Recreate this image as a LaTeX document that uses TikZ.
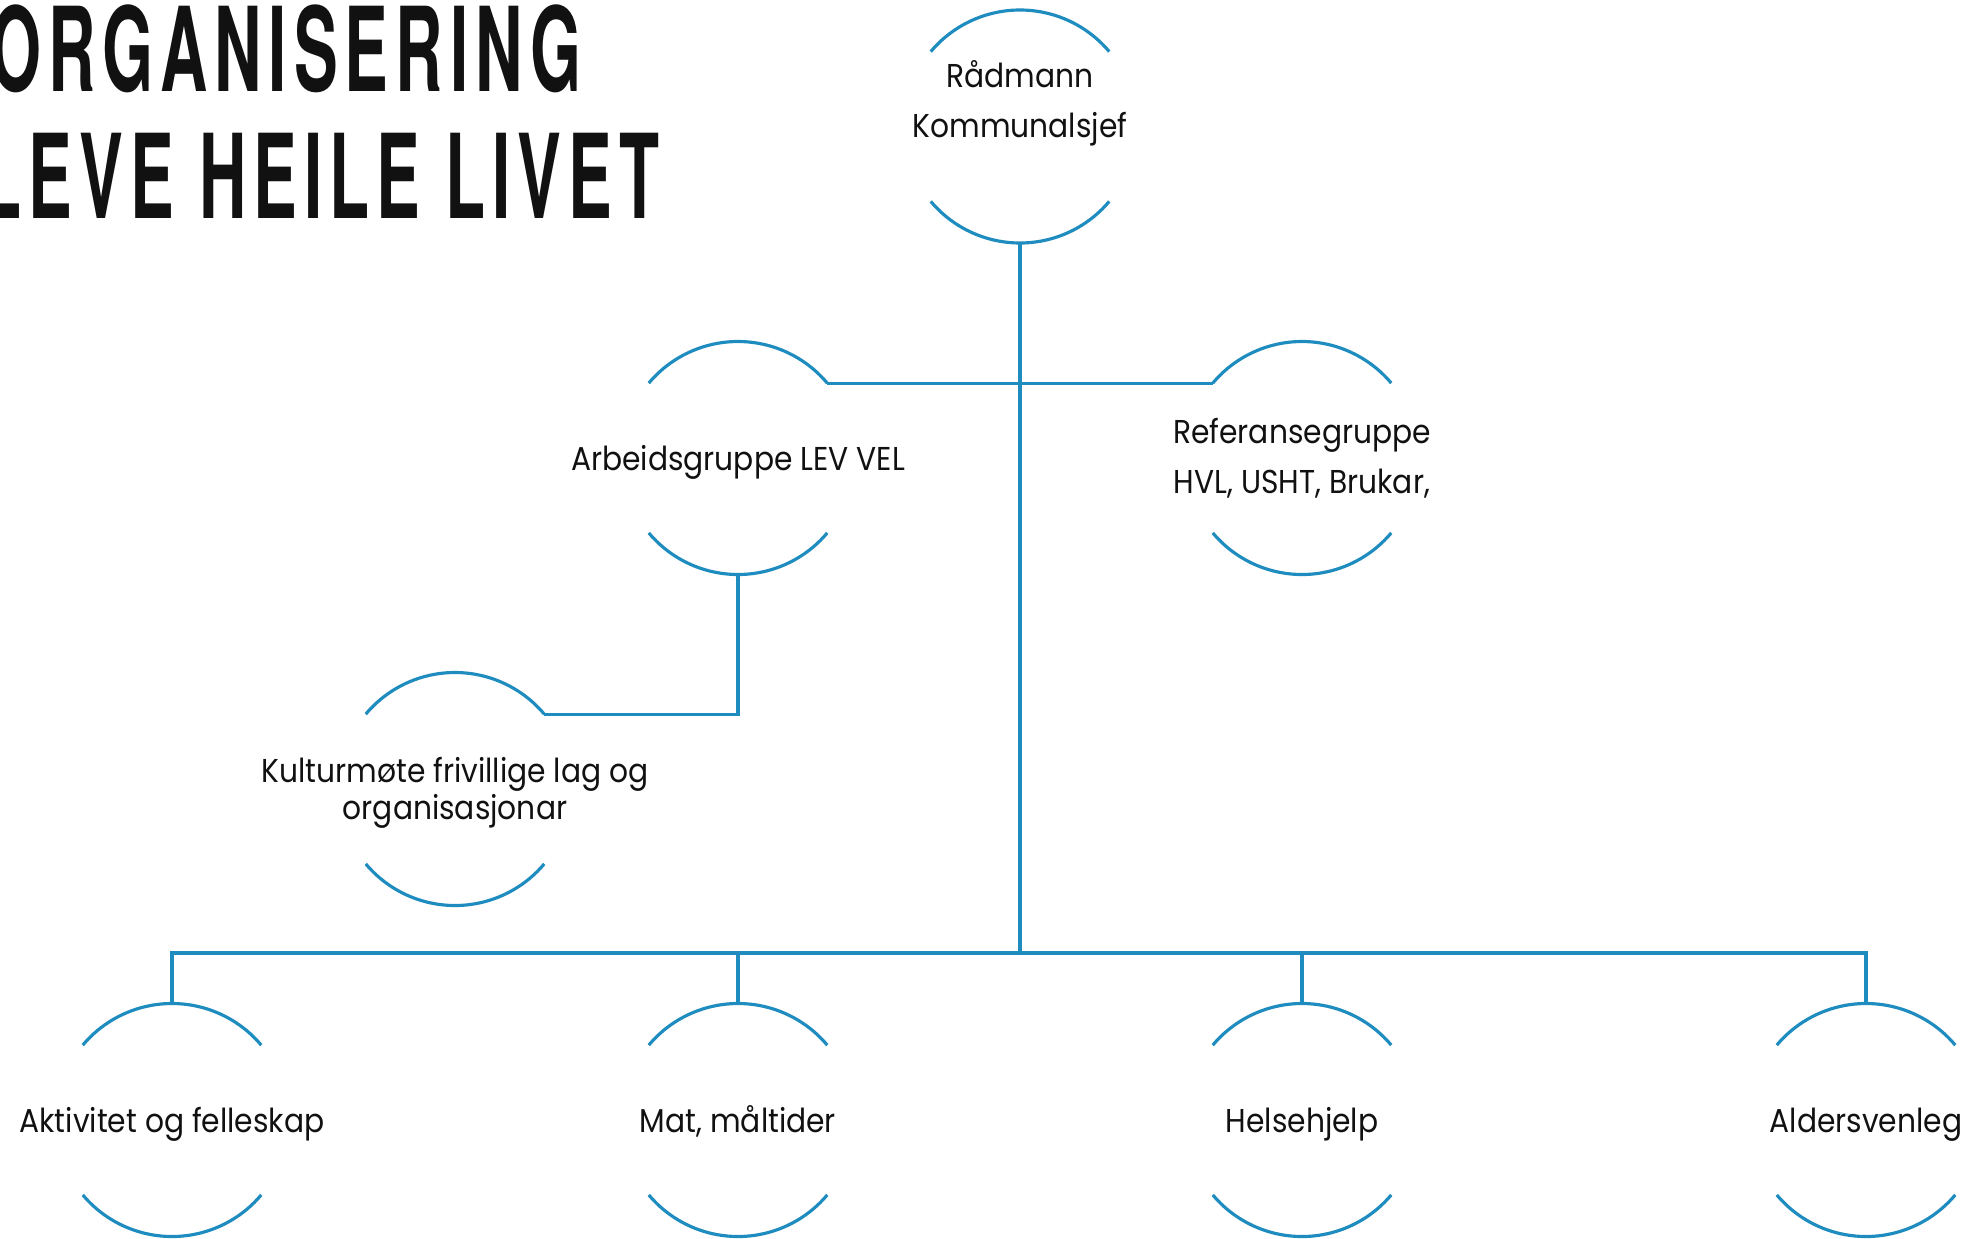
\documentclass[tikz,border=0pt]{standalone}
\usepackage{fontspec}
\setmainfont{Poppins}[FakeStretch=0.9]
\newfontfamily\titlefont{TeX Gyre Heros}[FakeStretch=0.56,LetterSpace=6]
\usetikzlibrary{positioning,calc}
\definecolor{orgblue}{RGB}{30,140,190}
\definecolor{inkblack}{RGB}{17,17,17}

\tikzset{
  bubble/.style={circle,minimum size=2.33cm,inner sep=0pt,outer sep=0pt},
  txt/.style={align=center,text=inkblack,font=\fontsize{9.4}{14.2}\selectfont},
  oneline/.style={txt,anchor=base,yshift=-0.12cm},
  heading/.style={anchor=base east,inner sep=0pt,text=inkblack,font=\titlefont\bfseries\fontsize{33.3}{40}\selectfont},
  link/.style={draw=orgblue,line width=0.9pt}
}

\begin{document}
\begin{tikzpicture}

\useasboundingbox (0,0) rectangle (19.72,-12.38);
\clip (0,0) rectangle (19.72,-12.38);

% Title
\node[heading] (t1) at (5.82,-0.91) {ORGANISERING};
\node[heading] (t2) at (6.60,-2.18) {LEVE HEILE LIVET};

% Bubbles
\node[bubble] (rad) at (10.20,-1.265) {};
\node[bubble] (arb) at (7.38,-4.58) {};
\node[bubble] (ref) at (13.02,-4.58) {};
\node[bubble] (kul) at (4.55,-7.89) {};
\node[bubble] (akt) at (1.72,-11.20) {};
\node[bubble] (mat) at (7.38,-11.20) {};
\node[bubble] (hel) at (13.02,-11.20) {};
\node[bubble] (ald) at (18.66,-11.20) {};

\foreach \n in {rad,arb,ref,kul,akt,mat,hel,ald} {
  \draw[link] (\n.40) arc[start angle=40,end angle=140,radius=1.165cm];
  \draw[link] (\n.220) arc[start angle=220,end angle=320,radius=1.165cm];
}

% Texts
\node[txt] (rad-t) at ([yshift=0.235cm]rad) {Rådmann\\Kommunalsjef};
\node[oneline] (arb-t) at (arb) {Arbeidsgruppe LEV VEL};
\node[txt] (ref-t) at (ref) {Referansegruppe\\HVL, USHT, Brukar,};
\node[txt] (kul-t) at ([yshift=-0.04cm]kul) {Kulturmøte frivillige lag og\\[-3.8pt]organisasjonar};
\node[oneline] (akt-t) at (akt) {Aktivitet og felleskap};
\node[oneline] (mat-t) at (mat) {Mat, måltider};
\node[oneline] (hel-t) at (hel) {Helsehjelp};
\node[oneline] (ald-t) at (ald) {Aldersvenleg};

% Lines
\coordinate (hub) at (10.20,-9.53);
\draw[link] (rad.south) -- (hub);
\draw[link] (arb.40) -- (ref.140);
\draw[link] (arb.south) |- (kul.40);
\draw[link] (akt.north) |- (hub) -| (ald.north);
\draw[link] (mat.north) -- (mat.north |- hub);
\draw[link] (hel.north) -- (hel.north |- hub);

\end{tikzpicture}
\end{document}
